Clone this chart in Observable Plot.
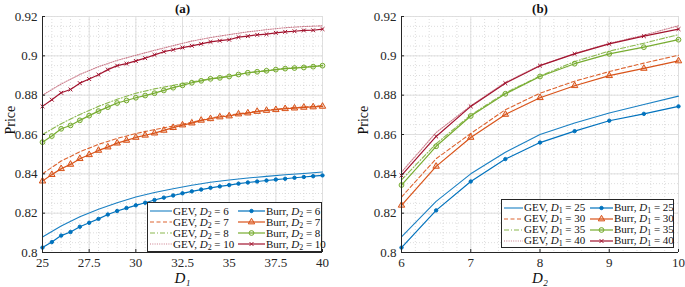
<!DOCTYPE html>
<html><head><meta charset="utf-8">
<script src="https://cdn.jsdelivr.net/npm/d3@7"></script>
<script src="https://cdn.jsdelivr.net/npm/@observablehq/plot@0.6"></script>
<style>
body{margin:0;background:#fff;}
#wrap{position:relative;width:685px;height:287px;overflow:hidden;font-family:"Liberation Serif",serif;}
.panel{position:absolute;top:0;}
.legend{position:absolute;box-sizing:border-box;background:#fff;border:1px solid #262626;font-family:"Liberation Serif",serif;font-size:11px;color:#111;display:grid;align-content:center;}
.legend .row{display:flex;align-items:center;height:11px;white-space:nowrap;}
.legend svg{display:block;flex:none;}
.legend .t{flex:none;}
.legend sub{font-size:0.72em;vertical-align:-0.25em;line-height:0;}
</style>
</head><body>
<div id="wrap"></div>
<script>
// ---------- data ----------
const yTicks = [0.8, 0.82, 0.84, 0.86, 0.88, 0.9, 0.92];
const xTicksA = [25, 27.5, 30, 32.5, 35, 37.5, 40];
const xTicksB = [6, 7, 8, 9, 10];

// Panel (a): price vs D1
const d1Burr = [25,25.5,26,26.5,27,27.5,28,28.5,29,29.5,30,30.5,31,31.5,32,32.5,33,33.5,34,34.5,35,35.5,36,36.5,37,37.5,38,38.5,39,39.5,40];
const burrA6  = [0.8025,0.8053,0.8086,0.8104,0.8131,0.8151,0.8171,0.8193,0.8211,0.8226,0.8240,0.8253,0.8267,0.8279,0.8290,0.8301,0.8311,0.8320,0.8329,0.8336,0.8343,0.8350,0.8356,0.8361,0.8366,0.8371,0.8375,0.8380,0.8384,0.8388,0.8392];
const burrA7  = [0.8363,0.8396,0.8426,0.8448,0.8477,0.8497,0.8519,0.8536,0.8556,0.8570,0.8585,0.8596,0.8607,0.8621,0.8635,0.8648,0.8658,0.8672,0.8680,0.8689,0.8694,0.8704,0.8709,0.8717,0.8722,0.8726,0.8731,0.8734,0.8738,0.8740,0.8743];
const burrA8  = [0.8561,0.8592,0.8629,0.8646,0.8672,0.8696,0.8719,0.8739,0.8760,0.8773,0.8787,0.8798,0.8810,0.8824,0.8838,0.8850,0.8863,0.8873,0.8883,0.8888,0.8895,0.8905,0.8914,0.8919,0.8924,0.8930,0.8935,0.8938,0.8941,0.8945,0.8950];
const burrA10 = [0.8743,0.8777,0.8812,0.8829,0.8861,0.8882,0.8904,0.8930,0.8950,0.8960,0.8974,0.8988,0.9005,0.9021,0.9031,0.9042,0.9051,0.9061,0.9071,0.9077,0.9082,0.9095,0.9100,0.9107,0.9110,0.9117,0.9122,0.9125,0.9129,0.9130,0.9136];
const d1Gev = [25,26,27,28,29,30,31,32,33,34,35,36,37,38,39,40];
const gevA6  = [0.8079,0.8135,0.8182,0.8220,0.8253,0.8282,0.8305,0.8324,0.8342,0.8357,0.8369,0.8379,0.8387,0.8395,0.8402,0.8409];
const gevA7  = [0.8400,0.8465,0.8512,0.8550,0.8580,0.8605,0.8625,0.8643,0.8662,0.8684,0.8699,0.8712,0.8724,0.8733,0.8740,0.8746];
const gevA8  = [0.8600,0.8655,0.8702,0.8743,0.8779,0.8810,0.8832,0.8850,0.8867,0.8884,0.8897,0.8914,0.8925,0.8936,0.8943,0.8951];
const gevA10 = [0.8800,0.8857,0.8905,0.8945,0.8977,0.9003,0.9028,0.9052,0.9075,0.9093,0.9108,0.9122,0.9133,0.9143,0.9149,0.9153];

// Panel (b): price vs D2
const d2Grid = [6,6.5,7,7.5,8,8.5,9,9.5,10];
const burrB25 = [0.8025,0.8214,0.8361,0.8475,0.8559,0.8617,0.8670,0.8705,0.8743];
const burrB30 = [0.8240,0.8438,0.8585,0.8702,0.8787,0.8848,0.8899,0.8936,0.8974];
const burrB35 = [0.8343,0.8540,0.8694,0.8807,0.8895,0.8960,0.9010,0.9044,0.9082];
const burrB40 = [0.8392,0.8590,0.8743,0.8861,0.8950,0.9010,0.9061,0.9100,0.9136];
const gevB25  = [0.8079,0.8260,0.8400,0.8510,0.8600,0.8658,0.8709,0.8753,0.8795];
const gevB30  = [0.8282,0.8477,0.8605,0.8726,0.8810,0.8871,0.8920,0.8963,0.9003];
const gevB35  = [0.8369,0.8553,0.8699,0.8812,0.8897,0.8971,0.9024,0.9064,0.9108];
const gevB40  = [0.8409,0.8610,0.8746,0.8865,0.8951,0.9012,0.9063,0.9105,0.9153];

const paramsA = [6, 7, 8, 10];
const paramsB = [25, 30, 35, 40];

// ---------- styles ----------
const colors = ["#0072BD", "#D95319", "#77AC30", "#A2142F"];
const gevDash = [null, "4,2.5", "5,2,1,2", "1,1.3"];
const gevOpacity = [0.9, 0.9, 0.85, 0.55];
const burrSym = [
  {symbol: "circle", r: 1.7, fillOpacity: 1},
  {symbol: "triangle", r: 2.4, fillOpacity: 0.25},
  {symbol: "circle", r: 2.4, fillOpacity: 0.15},
  {symbol: "times", r: 1.9, fillOpacity: 0}
];

const W = 340, H = 287, MT = 16, MB = 35;
const fmt = d => String(d);

function panel({xDomain, xTicks, xMinorStep, xs, burr, gevX, gev, title, xLabel, ylabelDx, ml, mr}) {
  const fw = W - ml - mr, fh = H - MT - MB;
  const xMinor = d3.range(xDomain[0], xDomain[1] + 1e-9, xMinorStep);
  const yMinor = d3.range(0.8, 0.92 + 1e-9, 0.005);
  const marks = [
    Plot.gridX(xMinor, {stroke: "#cfcfcf", strokeOpacity: 1, strokeWidth: 0.7, strokeDasharray: "1,2"}),
    Plot.gridY(yMinor, {stroke: "#cfcfcf", strokeOpacity: 1, strokeWidth: 0.7, strokeDasharray: "1,2"}),
    Plot.gridX(xTicks, {stroke: "#dddddd", strokeOpacity: 1, strokeWidth: 0.9}),
    Plot.gridY(yTicks, {stroke: "#dddddd", strokeOpacity: 1, strokeWidth: 0.9}),
  ];
  for (let i = 0; i < 4; i++) {
    const gd = gevX.map((x, j) => ({x, y: gev[i][j]}));
    marks.push(Plot.line(gd, {x: "x", y: "y", stroke: colors[i], strokeWidth: 1.1, strokeOpacity: gevOpacity[i], strokeDasharray: gevDash[i]}));
  }
  for (let i = 0; i < 4; i++) {
    const bd = xs.map((x, j) => ({x, y: burr[i][j]}));
    marks.push(Plot.line(bd, {x: "x", y: "y", stroke: colors[i], strokeWidth: 1.2}));
    marks.push(Plot.dot(bd, {x: "x", y: "y", symbol: burrSym[i].symbol, r: burrSym[i].r, stroke: colors[i], strokeWidth: 1, fill: colors[i], fillOpacity: burrSym[i].fillOpacity}));
  }
  marks.push(
    Plot.ruleX([xDomain[0]], {stroke: "#262626", strokeWidth: 1}),
    Plot.ruleY([0.8], {stroke: "#262626", strokeWidth: 1}),
    Plot.ruleX(xTicks, {stroke: "#262626", insetTop: fh - 3}),
    Plot.ruleY(yTicks, {stroke: "#262626", insetRight: fw - 3}),
    Plot.axisX({ticks: xTicks, tickSize: 0, tickPadding: 5, tickFormat: fmt, label: null, fill: "#262626"}),
    Plot.axisY({ticks: yTicks, tickSize: 0, tickPadding: 5, tickFormat: fmt, label: null, fill: "#262626"}),
    Plot.text([title], {text: d => d, frameAnchor: "top", lineAnchor: "top", dy: -13, fontWeight: "bold", fontSize: 13, fill: "#111"}),
    Plot.text([xLabel], {text: d => d, frameAnchor: "bottom", lineAnchor: "bottom", dy: 30, fontStyle: "italic", fontSize: 15, fill: "#111"}),
    Plot.text(["Price"], {text: d => d, frameAnchor: "left", rotate: -90, dx: ylabelDx, fontSize: 14, fill: "#111"})
  );
  return Plot.plot({
    width: W, height: H,
    marginLeft: ml, marginRight: mr, marginTop: MT, marginBottom: MB,
    x: {domain: xDomain},
    y: {domain: [0.8, 0.92]},
    style: {fontFamily: "Liberation Serif, serif", fontSize: "13px", background: "white", overflow: "visible"},
    marks
  });
}

const wrap = document.getElementById("wrap");
const a = panel({xDomain: [25, 40], xTicks: xTicksA, xMinorStep: 0.5, xs: d1Burr,
  burr: [burrA6, burrA7, burrA8, burrA10], gevX: d1Gev, gev: [gevA6, gevA7, gevA8, gevA10],
  title: "(a)", xLabel: "D₁", ylabelDx: -32, ml: 42, mr: 18});
const b = panel({xDomain: [6, 10], xTicks: xTicksB, xMinorStep: 0.2, xs: d2Grid,
  burr: [burrB25, burrB30, burrB35, burrB40], gevX: d2Grid, gev: [gevB25, gevB30, gevB35, gevB40],
  title: "(b)", xLabel: "D₂", ylabelDx: -38, ml: 56, mr: 7});
const pa = document.createElement("div"); pa.className = "panel"; pa.style.left = "0px"; pa.appendChild(a); wrap.appendChild(pa);
const pb = document.createElement("div"); pb.className = "panel"; pb.style.left = "345px"; pb.appendChild(b); wrap.appendChild(pb);

// ---------- legends ----------
function sample(i, w, withMarker) {
  const ns = "http://www.w3.org/2000/svg";
  const s = document.createElementNS(ns, "svg");
  s.setAttribute("width", w); s.setAttribute("height", 11);
  const l = document.createElementNS(ns, "line");
  l.setAttribute("x1", 1); l.setAttribute("x2", w - 1); l.setAttribute("y1", 6); l.setAttribute("y2", 6);
  l.setAttribute("stroke", colors[i]);
  l.setAttribute("stroke-width", withMarker ? 1.2 : 1.1);
  if (!withMarker) {
    l.setAttribute("stroke-opacity", gevOpacity[i]);
    if (gevDash[i]) l.setAttribute("stroke-dasharray", gevDash[i]);
  }
  s.appendChild(l);
  if (withMarker) {
    const sym = burrSym[i];
    const cx = w / 2, cy = 6;
    const path = document.createElementNS(ns, "path");
    const gen = {circle: d3.symbolCircle, triangle: d3.symbolTriangle, times: d3.symbolTimes}[sym.symbol];
    path.setAttribute("d", d3.symbol(gen, Math.PI * sym.r * sym.r)());
    path.setAttribute("transform", `translate(${cx},${cy})`);
    path.setAttribute("stroke", colors[i]);
    path.setAttribute("fill", colors[i]);
    path.setAttribute("fill-opacity", sym.fillOpacity);
    s.appendChild(path);
  }
  return s;
}
function legend({left, top, width, height, sub, params, s1, t1, s2, pad}) {
  const div = document.createElement("div");
  div.className = "legend";
  Object.assign(div.style, {left: left + "px", top: top + "px", width: width + "px", height: height + "px", paddingLeft: pad + "px"});
  params.forEach((p, i) => {
    const row = document.createElement("div"); row.className = "row";
    row.appendChild(sample(i, s1, false));
    const ta = document.createElement("span"); ta.className = "t"; ta.style.width = t1 + "px";
    ta.innerHTML = `GEV, <i>D</i><sub>${sub}</sub> = ${p}`;
    row.appendChild(ta);
    row.appendChild(sample(i, s2, true));
    const tb = document.createElement("span"); tb.className = "t";
    tb.innerHTML = `Burr, <i>D</i><sub>${sub}</sub> = ${p}`;
    row.appendChild(tb);
    div.appendChild(row);
  });
  wrap.appendChild(div);
}
legend({left: 147, top: 202, width: 175, height: 50, sub: 2, params: paramsA, s1: 24, t1: 64, s2: 29, pad: 1});
legend({left: 501, top: 199, width: 173, height: 49, sub: 1, params: paramsB, s1: 21, t1: 65, s2: 25, pad: 1});
</script>
</body></html>
